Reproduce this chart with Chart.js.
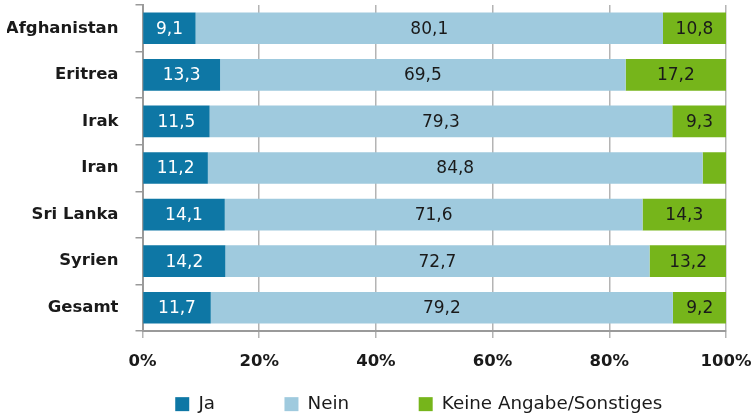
<!DOCTYPE html>
<html>
<head>
<meta charset="utf-8">
<script src="https://cdn.jsdelivr.net/npm/chart.js@4"></script>
<style>
  html, body { margin: 0; padding: 0; background: #fff; }
  #wrap { width: 755px; height: 417px; position: relative; }
</style>
</head>
<body>
<div id="wrap"><canvas id="chart"></canvas></div>
<script>
const categories = ['Afghanistan', 'Eritrea', 'Irak', 'Iran', 'Sri Lanka', 'Syrien', 'Gesamt'];
const seriesNames = ['Ja', 'Nein', 'Keine Angabe/Sonstiges'];
const ja = [9.1, 13.3, 11.5, 11.2, 14.1, 14.2, 11.7];
const nein = [80.1, 69.5, 79.3, 84.8, 71.6, 72.7, 79.2];
const keineAngabe = [10.8, 17.2, 9.3, 4.0, 14.3, 13.2, 9.2];
const xTicks = [0, 20, 40, 60, 80, 100];

const FONT = "'DejaVu Sans', sans-serif";
Chart.defaults.font.family = FONT;
Chart.defaults.color = '#1a1a1a';

// value inside each segment, with German decimal comma
const segmentLabels = {
    id: 'segmentLabels',
    afterDatasetsDraw(chart) {
        const ctx = chart.ctx;
        ctx.save();
        ctx.font = '17px ' + FONT;
        ctx.textAlign = 'center';
        ctx.textBaseline = 'middle';
        chart.data.datasets.forEach((ds, i) => {
            chart.getDatasetMeta(i).data.forEach((bar, j) => {
                const v = ds.data[j];
                if (v < 5) return; // segment too narrow, no label
                ctx.fillStyle = i === 0 ? '#ffffff' : '#1a1a1a';
                ctx.fillText(v.toFixed(1).replace('.', ','), (bar.x + bar.base) / 2, bar.y + 1);
            });
        });
        ctx.restore();
    }
};

new Chart(document.getElementById('chart'), {
    type: 'bar',
    data: {
        labels: categories,
        datasets: [
            { label: seriesNames[0], data: ja, backgroundColor: '#0e77a5' },
            { label: seriesNames[1], data: nein, backgroundColor: '#9fcade' },
            { label: seriesNames[2], data: keineAngabe, backgroundColor: '#76b51b' }
        ]
    },
    options: {
        indexAxis: 'y',
        responsive: true,
        maintainAspectRatio: false,
        animation: false,
        barPercentage: 0.68,
        categoryPercentage: 1.0,
        layout: { padding: { left: 7, right: 29, top: 5, bottom: 0 } },
        scales: {
            x: {
                stacked: true,
                min: 0,
                max: 100,
                afterBuildTicks: scale => { scale.ticks = xTicks.map(v => ({ value: v })); },
                afterFit: scale => {
                    scale.height = 41;
                    scale.paddingLeft = 0;
                    scale.paddingRight = 0;
                },
                ticks: {
                    padding: 14,
                    font: { size: 16.5, weight: 'bold' },
                    callback: v => v + '%'
                },
                grid: { color: '#b4b4b4', lineWidth: 1.5, tickLength: 7 },
                border: { color: '#9a9a9a', width: 2 }
            },
            y: {
                stacked: true,
                afterFit: scale => {
                    scale.width = 135.5;
                    scale.paddingTop = 0;
                    scale.paddingBottom = 0;
                },
                ticks: {
                    padding: 17,
                    font: { size: 16.5, weight: 'bold' }
                },
                grid: { drawOnChartArea: false, color: '#9a9a9a', lineWidth: 1.5, tickLength: 7, offset: true },
                border: { color: '#9a9a9a', width: 2 }
            }
        },
        plugins: {
            legend: {
                position: 'bottom',
                align: 'end',
                maxHeight: 45,
                labels: {
                    boxWidth: 14,
                    boxHeight: 14,
                    padding: 23,
                    font: { size: 18.3 },
                    // trailing spaces widen the gaps between the items
                    generateLabels: chart => {
                        const items = Chart.defaults.plugins.legend.labels.generateLabels(chart);
                        items.forEach((it, i) => {
                            it.text = it.text + ' '.repeat(i < items.length - 1 ? 8 : 7);
                            it.lineWidth = 0;
                        });
                        return items;
                    }
                }
            },
            tooltip: { enabled: false }
        }
    },
    plugins: [segmentLabels]
});
</script>
</body>
</html>
